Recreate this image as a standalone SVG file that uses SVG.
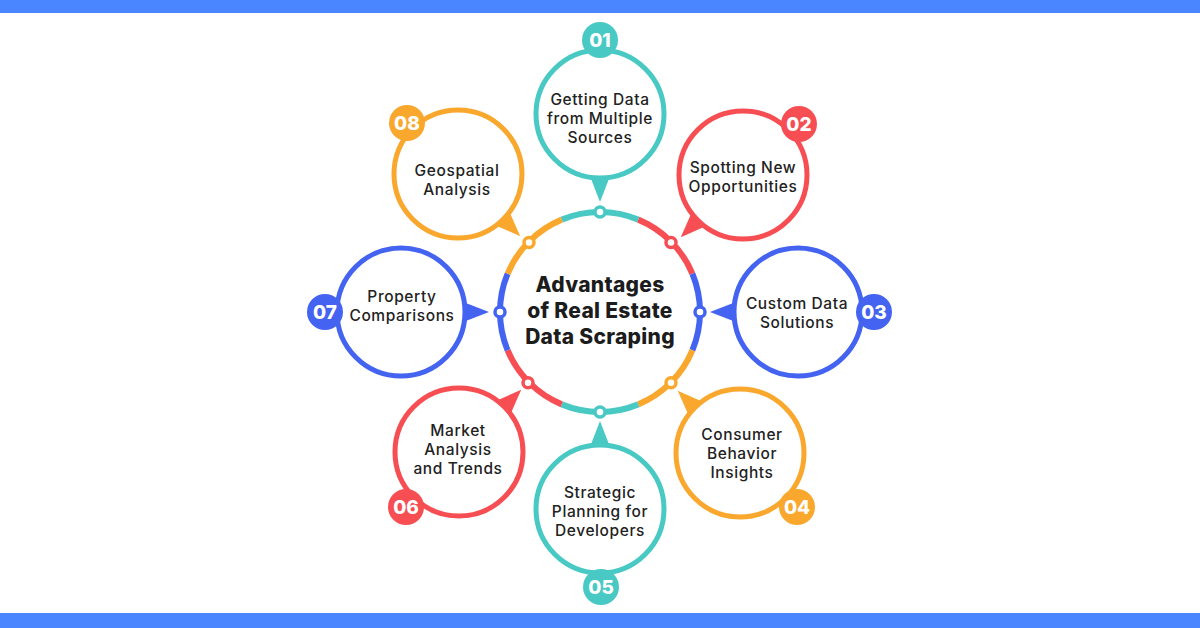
<svg xmlns="http://www.w3.org/2000/svg" xmlns:xlink="http://www.w3.org/1999/xlink" width="1200" height="628" viewBox="0 0 1200 628">
<style>
.lbl{font-family:Inter,"Liberation Sans",sans-serif;font-size:15.5px;font-weight:500;fill:#222;text-anchor:middle;letter-spacing:0.6px}
.num{font-family:Inter,"Liberation Sans",sans-serif;font-size:19px;font-weight:800;fill:#fff;text-anchor:middle}
.title{font-family:Inter,"Liberation Sans",sans-serif;font-size:21px;font-weight:800;fill:#1c1c1c;text-anchor:middle;letter-spacing:0.3px}
.sat{fill:#fff;stroke-width:5}
.seg{fill:none;stroke-width:6}
.dot{fill:#fff;stroke-width:3.5}
.teal{stroke:#48C9C3}.tealf{fill:#48C9C3}
.red{stroke:#F64E52}.redf{fill:#F64E52}
.blue{stroke:#4363F0}.bluef{fill:#4363F0}
.org{stroke:#F9A82D}.orgf{fill:#F9A82D}
</style>
<defs>
<path id="ptr" d="M0,88 L-12,57 L12,57 Z"/>
</defs>
<rect width="1200" height="628" fill="#fff"/>
<rect x="0" y="0" width="1200" height="13" fill="#4A86FF"/>
<rect x="0" y="613" width="1200" height="15" fill="#4A86FF"/>

<g id="connectors">
<path class="seg teal" d="M561.73,219.61 A100,100 0 0 1 638.27,219.61"/>
<path class="seg red" d="M638.27,219.61 A100,100 0 0 1 692.39,273.73"/>
<path class="seg blue" d="M692.39,273.73 A100,100 0 0 1 692.39,350.27"/>
<path class="seg org" d="M692.39,350.27 A100,100 0 0 1 638.27,404.39"/>
<path class="seg teal" d="M638.27,404.39 A100,100 0 0 1 561.73,404.39"/>
<path class="seg red" d="M561.73,404.39 A100,100 0 0 1 507.61,350.27"/>
<path class="seg blue" d="M507.61,350.27 A100,100 0 0 1 507.61,273.73"/>
<path class="seg org" d="M507.61,273.73 A100,100 0 0 1 561.73,219.61"/>
<use xlink:href="#ptr" class="tealf" transform="translate(600,114)"/>
<use xlink:href="#ptr" class="redf" transform="translate(743,175) rotate(45)"/>
<use xlink:href="#ptr" class="bluef" transform="translate(798,312) rotate(90)"/>
<use xlink:href="#ptr" class="orgf" transform="translate(740,453) rotate(135)"/>
<use xlink:href="#ptr" class="tealf" transform="translate(600,509) rotate(180)"/>
<use xlink:href="#ptr" class="redf" transform="translate(459,452) rotate(-135)"/>
<use xlink:href="#ptr" class="bluef" transform="translate(401,312) rotate(-90)"/>
<use xlink:href="#ptr" class="orgf" transform="translate(458,174) rotate(-45)"/>
<circle class="dot teal" cx="600" cy="212" r="5"/>
<circle class="dot red" cx="671" cy="242.5" r="5"/>
<circle class="dot blue" cx="700" cy="312" r="5"/>
<circle class="dot org" cx="671" cy="382.7" r="5"/>
<circle class="dot teal" cx="600" cy="412" r="5"/>
<circle class="dot red" cx="528" cy="382.7" r="5"/>
<circle class="dot blue" cx="500" cy="312" r="5"/>
<circle class="dot org" cx="529" cy="242.5" r="5"/>
</g>

<g id="center">
<text class="title" x="600" y="292">Advantages</text>
<text class="title" x="600" y="318">of Real Estate</text>
<text class="title" x="600" y="344">Data Scraping</text>
</g>

<g id="node01">
<circle class="sat teal" cx="600" cy="114" r="64"/>
<circle class="tealf" cx="600" cy="40" r="18"/>
<text class="num" x="600" y="47">01</text>
<text class="lbl" x="600" y="105">Getting Data</text>
<text class="lbl" x="600" y="124">from Multiple</text>
<text class="lbl" x="600" y="143">Sources</text>
</g>

<g id="node02">
<circle class="sat red" cx="743" cy="175" r="64"/>
<circle class="redf" cx="799" cy="124" r="18"/>
<text class="num" x="799" y="131">02</text>
<text class="lbl" x="743" y="173">Spotting New</text>
<text class="lbl" x="743" y="192">Opportunities</text>
</g>

<g id="node03">
<circle class="sat blue" cx="798" cy="312" r="64"/>
<circle class="bluef" cx="874" cy="312" r="18"/>
<text class="num" x="874" y="319">03</text>
<text class="lbl" x="797" y="309">Custom Data</text>
<text class="lbl" x="797" y="328">Solutions</text>
</g>

<g id="node04">
<circle class="sat org" cx="740" cy="453" r="64"/>
<circle class="orgf" cx="797" cy="507" r="18"/>
<text class="num" x="797" y="514">04</text>
<text class="lbl" x="742" y="440">Consumer</text>
<text class="lbl" x="742" y="459">Behavior</text>
<text class="lbl" x="742" y="478">Insights</text>
</g>

<g id="node05">
<circle class="sat teal" cx="600" cy="509" r="64"/>
<circle class="tealf" cx="601" cy="587" r="18"/>
<text class="num" x="601" y="594">05</text>
<text class="lbl" x="600" y="498">Strategic</text>
<text class="lbl" x="600" y="517">Planning for</text>
<text class="lbl" x="600" y="536">Developers</text>
</g>

<g id="node06">
<circle class="sat red" cx="459" cy="452" r="64"/>
<circle class="redf" cx="406" cy="507" r="18"/>
<text class="num" x="406" y="514">06</text>
<text class="lbl" x="458" y="436">Market</text>
<text class="lbl" x="458" y="455">Analysis</text>
<text class="lbl" x="458" y="474">and Trends</text>
</g>

<g id="node07">
<circle class="sat blue" cx="401" cy="312" r="64"/>
<circle class="bluef" cx="325" cy="312" r="18"/>
<text class="num" x="325" y="319">07</text>
<text class="lbl" x="402" y="302">Property</text>
<text class="lbl" x="402" y="321">Comparisons</text>
</g>

<g id="node08">
<circle class="sat org" cx="458" cy="174" r="64"/>
<circle class="orgf" cx="407" cy="123" r="18"/>
<text class="num" x="407" y="130">08</text>
<text class="lbl" x="457" y="176">Geospatial</text>
<text class="lbl" x="457" y="195">Analysis</text>
</g>
</svg>
